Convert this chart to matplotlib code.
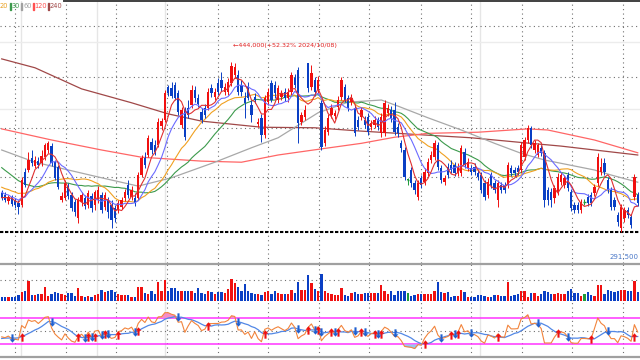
import numpy as np
import pandas as pd
import matplotlib
matplotlib.use("Agg")
import matplotlib.pyplot as plt
from matplotlib.lines import Line2D
from matplotlib.patches import Rectangle
from matplotlib.path import Path

# 일봉 시가/고가/저가/종가 (천원)
opens = [326.5, 324.5, 319, 322.5, 320, 317.5, 315.5, 345, 347, 358,
         350.5, 355, 353.5, 358.5, 365, 368.5, 354, 349.5, 320, 322,
         332.5, 324.5, 318, 304, 318, 322, 315.5, 323.5, 315.5, 320,
         324.5, 313.5, 320, 315.5, 313, 311, 313.5, 322, 333.5, 322.5,
         322, 322, 342.5, 358, 360.5, 372, 369.5, 369.5, 386.5, 392,
         421.5, 421, 423.5, 416.5, 387.5, 401, 403, 405.5, 419, 412,
         399, 403, 403, 421, 412.5, 425.5, 428, 417, 417, 425.5,
         432.5, 432.5, 423.5, 412, 421.5, 405.5, 412.5, 388.5, 394, 378.5,
         408, 425.5, 423.5, 410, 412.5, 417, 412, 417, 430, 437,
         390, 394.5, 443, 421.5, 428, 419, 407.5, 371.5, 381, 396.5,
         395.5, 403.5, 412.5, 421.5, 412, 408, 403, 392, 394.5, 392,
         394.5, 385.5, 387.5, 392, 380.5, 380.5, 398.5, 401, 401, 385.5,
         371.5, 365, 338, 347, 335.5, 322.5, 340, 336, 344.5, 356,
         358.5, 369.5, 349, 336, 349.5, 351.5, 351.5, 344.5, 344.5, 363,
         349, 349, 349.5, 344.5, 342.5, 335.5, 324.5, 342.5, 335.5, 320,
         333.5, 333.5, 333.5, 349, 347, 349, 347, 358.5, 374, 385,
         365, 360.5, 367, 362.5, 329, 327, 322, 327, 336, 333.5,
         342.5, 327, 315.5, 315.5, 311, 318, 322.5, 324.5, 326.5, 335.5,
         345, 353.5, 338, 329, 320, 306.5, 295, 304, 311, 304.5,
         322.5, 324.5]
highs = [329, 327, 324.5, 324.5, 322, 320, 340.5, 349, 363, 365,
         359.5, 358.5, 365, 371.5, 373, 371.5, 356, 351.5, 327, 338,
         335.5, 327, 321, 322.5, 327, 324.5, 329, 326.5, 329, 332.5,
         327, 327, 322.5, 320, 315.5, 320, 322.5, 330, 338, 332.5,
         326.5, 345, 360.5, 363, 378.5, 376, 374, 394, 394, 419,
         423.5, 426, 426, 419, 403.5, 403.5, 410, 423.5, 422.5, 415.5,
         403, 406.5, 421, 424.5, 421, 430, 435, 425.5, 430, 444,
         443.5, 437, 428, 417, 426, 410, 416.5, 394, 397.5, 414.5,
         421, 428, 427, 423.5, 419, 421, 421, 435, 433.5, 439.5,
         399, 405.5, 443.5, 441.5, 430.5, 431.5, 410, 386.5, 397.5, 406.5,
         401, 413.5, 430.5, 424.5, 414.5, 415.5, 405.5, 395.5, 403.5, 395.5,
         398.5, 392, 395.5, 394.5, 398.5, 410, 406.5, 404.5, 408, 389.5,
         374, 367.5, 340, 349.5, 338, 338, 342.5, 349, 358, 364,
         374, 372, 351.5, 342.5, 353.5, 356, 354, 353.5, 369.5, 367,
         358, 351.5, 353.5, 347, 345, 338, 340, 345, 338, 338,
         336, 336, 354, 351.5, 349.5, 351.5, 372, 376.5, 387.5, 386.5,
         374, 371.5, 369.5, 365, 331.5, 331, 333.5, 344.5, 345, 342.5,
         345, 330, 318, 318, 321, 321, 325.5, 327, 334.5, 362.5,
         358, 358, 340.5, 331.5, 322.5, 309, 316.5, 313.5, 313.5, 307.5,
         343.5, 327]
lows = [320, 318, 316.5, 314.5, 313, 307.5, 314, 331.5, 345, 350.5,
        349, 349, 350.5, 356, 362.5, 350.5, 338, 330, 318, 320,
        321, 310, 305.5, 299.5, 314.5, 312, 313, 309, 311, 317.5,
        308.5, 311, 304, 295, 300, 308.5, 312, 319, 322, 320,
        314.5, 320, 340.5, 349, 358.5, 361.5, 360.5, 367.5, 383, 390,
        413.5, 412, 410, 396.5, 385, 374, 394, 403, 408, 403.5,
        389.5, 394, 401, 412.5, 410, 414.5, 418, 414.5, 414.5, 422.5,
        430, 414.5, 413.5, 394, 410, 390, 407.5, 385.5, 372, 376,
        405.5, 408, 412, 407.5, 410, 409, 408, 414.5, 421, 371.5,
        387.5, 392, 417, 419, 413.5, 416.5, 365, 368.5, 378.5, 394,
        393, 401, 410, 408, 400, 405.5, 377.5, 383, 392, 385,
        378.5, 383, 385, 383, 376.5, 377.5, 395.5, 390, 378.5, 376.5,
        363, 338, 333.5, 331.5, 325.5, 320, 331, 333.5, 341.5, 353.5,
        356, 347, 335.5, 333.5, 340, 344.5, 341.5, 341.5, 341.5, 349,
        346, 342.5, 342.5, 338, 326.5, 320, 322, 331, 326.5, 313.5,
        326.5, 326.5, 331, 341.5, 341.5, 342.5, 344.5, 356, 371.5, 367,
        362.5, 358.5, 359.5, 313.5, 315.5, 313.5, 317.5, 324.5, 333.5, 331,
        328, 310, 308.5, 308.5, 308.5, 315.5, 314.5, 314.5, 323.5, 332.5,
        342.5, 342.5, 326.5, 311, 311, 296.5, 291.5, 300, 304, 295,
        320, 314.5]
closes = [322, 320, 322.5, 316.5, 315.5, 314, 338, 333.5, 356, 353.5,
          356, 351.5, 359.5, 369.5, 371.5, 353.5, 340, 331.5, 323.5, 335.5,
          323.5, 313, 309, 320, 324.5, 314.5, 326.5, 313, 327, 329,
          311, 324.5, 309, 302, 304, 317.5, 320, 327, 324.5, 329,
          317.5, 342.5, 358, 351.5, 376, 365, 363, 390, 391, 416.5,
          416.5, 413.5, 412, 399, 401, 376.5, 396.5, 419, 412, 406.5,
          392, 396.5, 417, 416.5, 417, 417, 421, 421.5, 426, 440.5,
          439.5, 417, 417, 407.5, 412, 396.5, 410, 390, 378.5, 412,
          417, 410, 416.5, 421, 416.5, 412, 417, 432.5, 423.5, 389.5,
          396.5, 401, 421, 434, 417, 428, 367.5, 383, 394, 403,
          398.5, 410, 428, 410, 403, 412, 380.5, 385.5, 401, 387.5,
          381, 389.5, 392, 385.5, 394.5, 407.5, 403, 394, 381, 380.5,
          367, 340.5, 338, 335.5, 329, 335.5, 333.5, 345, 354, 360.5,
          371.5, 349.5, 338, 340, 342.5, 347, 344.5, 349.5, 367, 351.5,
          354, 345, 345, 340.5, 329, 322.5, 336, 333.5, 329, 335.5,
          329, 329, 351.5, 344.5, 344.5, 345, 369.5, 374, 385, 369.5,
          371.5, 369.5, 362.5, 320, 320, 320, 331, 340.5, 342.5, 340,
          331, 313, 311, 311, 318, 318, 317.5, 317.5, 331.5, 358.5,
          349.5, 345, 329, 313.5, 313.5, 300, 313.5, 311, 306.5, 297.5,
          340.5, 317.5]
# 거래량 (천주)
volumes = [45, 45, 40, 40, 45, 60, 95, 100, 200, 65,
           65, 70, 70, 140, 55, 75, 90, 80, 75, 60,
           80, 80, 50, 130, 50, 40, 55, 45, 65, 75,
           110, 95, 100, 110, 90, 70, 60, 65, 65, 45,
           40, 140, 140, 80, 70, 100, 75, 190, 100, 210,
           105, 130, 130, 105, 105, 105, 105, 105, 80, 130,
           80, 75, 100, 90, 75, 90, 90, 80, 120, 220,
           180, 140, 100, 170, 105, 80, 75, 70, 65, 90,
           105, 75, 100, 80, 75, 70, 75, 110, 80, 190,
           110, 110, 265, 180, 120, 105, 270, 105, 80, 75,
           65, 65, 130, 65, 55, 80, 90, 75, 75, 80,
           80, 80, 80, 80, 160, 100, 75, 105, 65, 100,
           100, 100, 85, 55, 60, 75, 75, 75, 75, 75,
           105, 190, 90, 80, 90, 45, 55, 55, 115, 90,
           45, 45, 45, 65, 65, 55, 40, 40, 65, 60,
           55, 55, 190, 55, 60, 75, 100, 100, 45, 80,
           80, 55, 70, 100, 90, 75, 75, 80, 75, 75,
           100, 120, 80, 80, 55, 75, 90, 65, 55, 160,
           160, 75, 115, 100, 90, 105, 115, 110, 105, 100,
           205, 90]
# 화면 이전 종가 29일 (이동평균, RSI 계산용)
prev_closes = [392, 390, 388, 386, 384, 383, 382, 381, 380, 378,
               346, 338, 343, 334, 340, 331, 338, 329, 336, 325,
               338, 329, 336, 326, 331, 318, 326, 317, 327]

# 장기 이동평균 (봉 번호, 천원)
ma60_idx = [0, 10, 20, 30, 41, 51, 64, 75, 83, 95, 104, 114, 119, 128, 138, 148, 156, 163, 178, 183, 191]
ma60_val = [365, 354, 347, 340, 332.5, 340, 354, 367, 376, 398.5, 408, 410, 404.5, 394, 383, 371, 362, 356, 347, 342.5, 336]
ma120_idx = [0, 15, 30, 42, 60, 72, 83, 96, 108, 118, 128, 143, 158, 164, 178, 191]
ma120_val = [384, 374, 365, 358.5, 355, 354, 360.5, 366, 371, 376.5, 380, 381, 384, 383, 374, 362.5]
ma240_idx = [0, 10, 24, 39, 50, 60, 78, 94, 108, 127, 141, 157, 168, 191]
ma240_val = [447, 439, 420, 407.5, 397.5, 391, 385.5, 385, 382, 378.5, 376, 371.5, 368.5, 360.5]

low_price = 291.5
high_price = 444.0
price_grid = [476.5, 430.5, 385, 340.5]
price_light = [462, 402]
vgrid_pos = [4, 19.3, 34.3, 49.6, 65, 80, 95.3, 110.3, 125.9, 140.9, 156.3, 171.2, 186.6]
month_pos = [5.8, 28.6, 49.0, 143.6]

RED, BLUE, GREEN = "#f01010", "#0a3fc4", "#1e9a3a"

n = len(closes)
idx = np.arange(n)
o, h, l, c = map(np.array, (opens, highs, lows, closes))
col = np.where(c > o, RED, np.where(c < o, BLUE, GREEN))

full = pd.Series(prev_closes + closes, dtype=float)
ma = {w: full.rolling(w).mean().values[-n:] for w in (5, 10, 20, 30)}

delta = full.diff()
gain = delta.clip(lower=0).ewm(alpha=1 / 9, adjust=False).mean()
loss = (-delta.clip(upper=0)).ewm(alpha=1 / 9, adjust=False).mean()
rsi_full = 100 - 100 / (1 + gain / loss)
sig_full = rsi_full.rolling(9).mean()
rsi = rsi_full.values[-n:]
sig = sig_full.values[-n:]

fig = plt.figure(figsize=(6.4, 3.6), dpi=100)
ax_p = fig.add_axes([0, 97 / 360, 1, 262 / 360])
ax_v = fig.add_axes([0, 59 / 360, 1, 37 / 360])
ax_o = fig.add_axes([0, 3 / 360, 1, 56 / 360])
xlim = (-0.51, 191.68)
for ax in (ax_p, ax_v, ax_o):
    ax.set_xlim(*xlim)
    ax.set_xticks([])
    ax.set_yticks([])
    for s in ax.spines.values():
        s.set_visible(False)
    for xv in vgrid_pos:
        ax.axvline(xv, color="#707070", lw=0.8, ls=(0, (1, 3)), zorder=0)
    for xv in month_pos:
        ax.axvline(xv, color="#e6e6e6", lw=1.0, zorder=0)

# 가격 패널
ax_p.set_ylim(263.3, 499.1)
for yv in price_light:
    ax_p.axhline(yv, color="#ececec", lw=1.0, zorder=0)
for yv in price_grid:
    ax_p.axhline(yv, color="#707070", lw=0.8, ls=(0, (1, 3)), zorder=0)
ax_p.axhline(low_price, color="black", lw=1.5, ls=(0, (1.6, 0.8)), zorder=1)

ax_p.plot(ma240_idx, ma240_val, color="#a04848", lw=0.9, zorder=2)
ax_p.plot(ma120_idx, ma120_val, color="#ff6666", lw=0.9, zorder=2)
ax_p.plot(ma60_idx, ma60_val, color="#a8a8a8", lw=0.9, zorder=2)
ax_p.plot(idx, ma[30], color="#3c9a4c", lw=0.8, zorder=2)
ax_p.plot(idx, ma[20], color="#f0a020", lw=0.8, zorder=2)

ax_p.vlines(idx, l, h, colors=col, lw=0.7, zorder=3)
ax_p.bar(idx, np.maximum(np.abs(c - o), 0.5), bottom=np.minimum(o, c),
         width=0.7, color=col, lw=0, zorder=3)
doji = c == o
ax_p.hlines(c[doji], idx[doji] - 0.4, idx[doji] + 0.4, colors=GREEN, lw=1.0, zorder=3)

ax_p.plot(idx, ma[10], color="#6b6bff", lw=0.8, zorder=4)
ax_p.plot(idx, ma[5], color="#e03030", lw=0.8, zorder=4)

top = int(np.argmax(h))
ax_p.text(top + 0.5, high_price + 15.5, "\u2190444,000(+52.32% 2024/10/08)",
          color="#e02020", fontsize=4.6, ha="left", va="center", zorder=5)

# 거래량 패널
ax_v.set_ylim(0, 370)
ax_v.axhline(210, color="#707070", lw=0.8, ls=(0, (1, 3)), zorder=0)
ax_v.bar(idx, volumes, width=0.7, color=col, lw=0, zorder=2)

# 보조지표 패널 (RSI + 시그널)
ax_o.set_ylim(10, 96.2)
ax_o.axhline(50, color="#707070", lw=0.8, ls=(0, (1, 3)), zorder=0)
ax_o.axhline(70, color="#ff33ff", lw=1.1, zorder=1)
ax_o.axhline(30, color="#ff33ff", lw=1.1, zorder=1)
ax_o.fill_between(idx, rsi, 70, where=rsi > 70, interpolate=True, color="#f58cc8", lw=0, zorder=2)
ax_o.fill_between(idx, rsi, 30, where=rsi < 30, interpolate=True, color="#96c8f0", lw=0, zorder=2)
ax_o.plot(idx, sig, color="#5288e6", lw=0.9, zorder=3)
ax_o.plot(idx, rsi, color="#f2843c", lw=0.8, zorder=3)

arrow_up = Path([(0, 1), (-0.7, 0.2), (-0.25, 0.2), (-0.25, -1), (0.25, -1),
                 (0.25, 0.2), (0.7, 0.2), (0, 1)])
arrow_dn = Path([(x, -y) for x, y in arrow_up.vertices])
d = rsi - sig
up = [i for i in range(1, n) if d[i - 1] < 0 <= d[i]]
dn = [i for i in range(1, n) if d[i - 1] > 0 >= d[i]]
ax_o.plot(up, sig[up], ls="none", marker=arrow_up, ms=6, color=RED, mew=0, zorder=4)
ax_o.plot(dn, sig[dn], ls="none", marker=arrow_dn, ms=6, color="#2060d0", mew=0, zorder=4)

# 테두리 / 구분선
W, H = 640.0, 360.0
for y_px, xs, color, lw in [(1, (64, 640), "#404040", 1.4),
                            (263.5, (0, 640), "#a0a0a0", 1.6),
                            (356.5, (0, 640), "#a0a0a0", 1.6)]:
    fig.add_artist(Line2D([xs[0] / W, xs[1] / W], [1 - y_px / H, 1 - y_px / H],
                          color=color, lw=lw, transform=fig.transFigure))

# 이동평균 범례
legend_items = [("20", "#e8a020", 0), ("30", "#3c9a4c", 11.5), ("60", "#a0a0a0", 23),
                ("120", "#ff5050", 34.5), ("240", "#a04848", 50)]
for k, (lab, color, x_px) in enumerate(legend_items):
    if k > 0:
        fig.add_artist(Rectangle(((x_px - 1.9) / W, 1 - 9.5 / H), 1.2 / W, 6.5 / H,
                                 color=color, transform=fig.transFigure))
    fig.text(x_px / W, 1 - 6 / H, lab, color=color, fontsize=4.8, ha="left", va="center")

fig.text(639 / W, 1 - 257 / H, "291,500", color="#4a78c8", fontsize=5,
         ha="right", va="center")

fig.savefig("out.png", dpi=100)
